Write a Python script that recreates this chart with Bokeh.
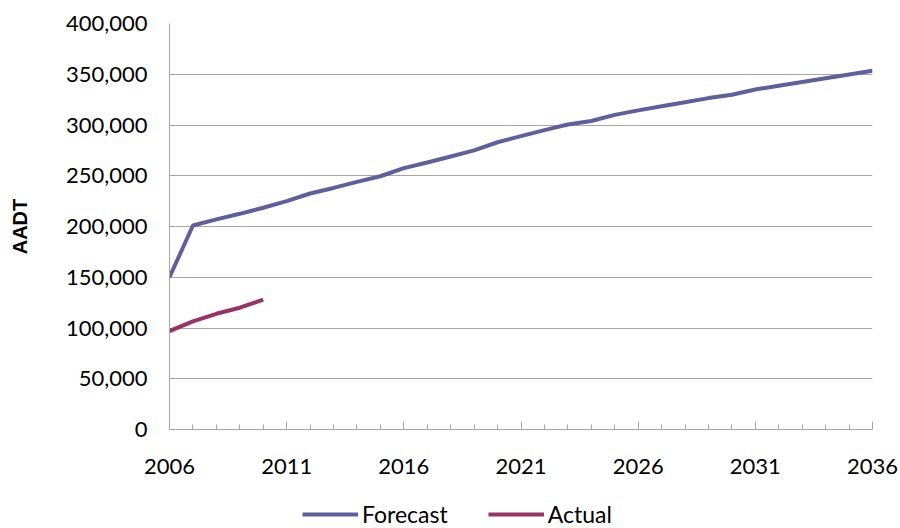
from bokeh.plotting import figure
from bokeh.layouts import column
from bokeh.models import (Range1d, FixedTicker, NumeralTickFormatter, Legend,
                          LegendItem)
from bokeh.embed import file_html
from bokeh.resources import INLINE

# Annual average daily traffic
years = list(range(2006, 2037))
forecast = [150000, 201000, 207000, 212500, 218500, 225000, 232500, 238000,
            244000, 249500, 257500, 263000, 269000, 275000, 283000, 289000,
            295000, 300500, 304000, 310000, 314400, 318400, 322500, 326500,
            329800, 335000, 338700, 342400, 346100, 349800, 353500]
actual_years = [2006, 2007, 2008, 2009, 2010]
actual = [97000, 106500, 114000, 120000, 128000]

x_major = [2006, 2011, 2016, 2021, 2026, 2031, 2036]
y_ticks = [0, 50000, 100000, 150000, 200000, 250000, 300000, 350000, 400000]
series_names = ["Forecast", "Actual"]
series_colors = ["#5E5F9E", "#993366"]

FONT = "Lato"
GRID = "#A6A6A6"

p = figure(width=900, height=500, output_backend="svg", toolbar_location=None,
           x_range=Range1d(2006, 2036), y_range=Range1d(0, 400000),
           min_border_left=169, min_border_right=28, min_border_top=23,
           min_border_bottom=71)
p.outline_line_color = None
p.background_fill_color = "white"
p.border_fill_color = "white"

p.xgrid.grid_line_color = None
p.ygrid.grid_line_color = GRID
p.ygrid.grid_line_width = 1
p.ygrid.ticker = FixedTicker(ticks=y_ticks)

# x axis: labelled every five years, tick marks every year
p.xaxis.ticker = FixedTicker(ticks=x_major, minor_ticks=years)
p.xaxis.axis_line_color = GRID
p.xaxis.major_tick_line_color = GRID
p.xaxis.minor_tick_line_color = GRID
p.xaxis.major_tick_in = 8
p.xaxis.major_tick_out = 0
p.xaxis.minor_tick_in = 5
p.xaxis.minor_tick_out = 0
p.xaxis.major_label_text_font = FONT
p.xaxis.major_label_text_font_size = "22px"
p.xaxis.major_label_text_color = "black"
p.xaxis.major_label_standoff = 29

# y axis
p.yaxis.ticker = FixedTicker(ticks=y_ticks)
p.yaxis.formatter = NumeralTickFormatter(format="0,0")
p.yaxis.axis_line_color = GRID
p.yaxis.major_tick_line_color = None
p.yaxis.minor_tick_line_color = None
p.yaxis.major_tick_in = 0
p.yaxis.major_tick_out = 0
p.yaxis.major_label_text_font = FONT
p.yaxis.major_label_text_font_size = "22px"
p.yaxis.major_label_text_color = "black"
p.yaxis.major_label_standoff = 22
p.yaxis.axis_label = "AADT"
p.yaxis.axis_label_text_font = "Liberation Sans"
p.yaxis.axis_label_text_font_style = "bold"
p.yaxis.axis_label_text_font_size = "20px"
p.yaxis.axis_label_text_color = "black"
p.yaxis.axis_label_standoff = 32

p.line(years, forecast, line_color=series_colors[0], line_width=4)
p.line(actual_years, actual, line_color=series_colors[1], line_width=4)

# legend strip underneath the chart (its frame lines up with the chart's)
q = figure(width=900, height=28, output_backend="svg", toolbar_location=None,
           x_range=Range1d(0, 1), y_range=Range1d(0, 1),
           x_axis_location=None, y_axis_location=None,
           min_border_left=0, min_border_right=0, min_border_top=0,
           min_border_bottom=0)
q.outline_line_color = None
q.grid.visible = False
q.border_fill_color = "white"

# swatch renderers sit outside the visible range; only their legend shows
swatches = [q.line([-1, -2], [-1, -2], line_color=c, line_width=4)
            for c in series_colors]
legend = Legend(items=[LegendItem(label=n, renderers=[r])
                       for n, r in zip(series_names, swatches)],
                orientation="horizontal", location=(133, 0),
                glyph_width=56, glyph_height=20, label_standoff=4,
                spacing=40, padding=0, margin=0,
                label_text_font=FONT, label_text_font_size="23px",
                label_text_color="black",
                border_line_color=None, background_fill_alpha=0)
q.add_layout(legend, "center")

open("out.html", "w").write(file_html(column(p, q, spacing=0), INLINE))
